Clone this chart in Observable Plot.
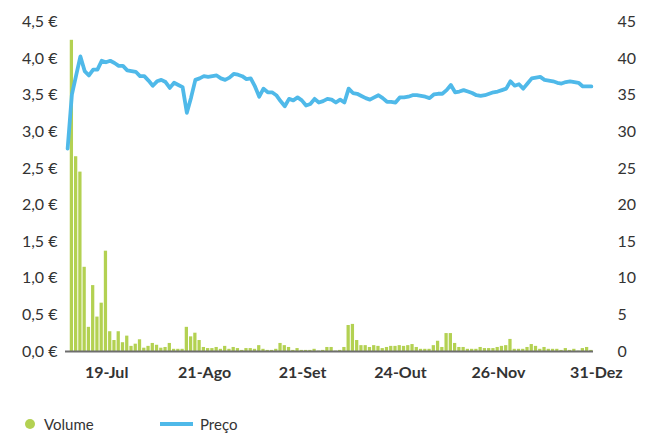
<!DOCTYPE html>
<html>
<head>
<meta charset="utf-8">
<script src="https://cdn.jsdelivr.net/npm/d3@7"></script>
<script src="https://cdn.jsdelivr.net/npm/@observablehq/plot@0.6"></script>
<style>
  html, body { margin: 0; padding: 0; background: #fff; }
  body { width: 646px; height: 434px; overflow: hidden; font-family: Lato, "Open Sans", sans-serif; }
  #legend { position: relative; height: 47px; font-size: 15px; color: #333; }
  #legend .dot { position: absolute; left: 25px; top: 32px; width: 10px; height: 10px; border-radius: 50%; background: #b3d152; }
  #legend .line { position: absolute; left: 160px; top: 35px; width: 33px; height: 4px; background: #4fb9e9; }
  #legend .lab { position: absolute; top: 28px; line-height: 18px; }
</style>
</head>
<body>
<div id="chart"></div>
<div id="legend">
  <div class="dot"></div><div class="lab" style="left:44px">Volume</div>
  <div class="line"></div><div class="lab" style="left:200px">Preço</div>
</div>
<script>
// Trading days (2012), by month
const julDays = [9,10,11,12,13,16,17,18,19,20,23,24,25,26,27,30,31];
const agoDays = [1,2,3,6,7,8,9,10,13,14,15,16,17,20,21,22,23,24,27,28,29,30,31];
const setDays = [3,4,5,6,7,10,11,12,13,14,17,18,19,20,21,24,25,26,27,28];
const outDays = [1,2,3,4,5,8,9,10,11,12,15,16,17,18,19,22,23,24,25,26,29,30,31];
const novDays = [1,2,5,6,7,8,9,12,13,14,15,16,19,20,21,22,23,26,27,28,29,30];
const dezDays = [3,4,5,6,7,10,11,12,13,14,17,18,19,20,21,24,27,28,31];

// Volume (right axis, 0–45)
const volume = [
  0, 42.5, 26.6, 24.5, 11.5, 3.3, 9.0, 4.7, 6.6, 13.7,
  2.7, 1.5, 2.7, 1.2, 2.1, 0.7, 1.0, 1.6, 0.45, 0.7,
  1.1, 0.85, 0.45, 0.55, 1.1, 0.3, 0.3, 0.3, 3.3, 2.0,
  2.5, 1.5, 0.55, 0.4, 0.4, 0.55, 0.3, 0.7, 0.3, 0.55,
  0.4, 0.15, 0.4, 0.4, 0.3, 0.8, 0.3, 0.15, 0.15, 0.3,
  1.1, 0.8, 0.55, 0.15, 0.4, 0.15, 0.15, 0.15, 0.3, 0.05,
  0.15, 0.55, 0.55, 0.05, 0.15, 0.55, 3.55, 3.7, 1.5, 0.8,
  0.8, 0.55, 0.8, 0.7, 0.4, 0.55, 0.7, 0.7, 0.8, 0.7,
  0.8, 0.95, 0.55, 0.3, 0.3, 0.3, 0.8, 1.4, 0.55, 2.45,
  2.45, 1.1, 0.55, 0.55, 0.3, 0.3, 0.3, 0.55, 0.4, 0.4,
  0.4, 0.55, 0.7, 0.8, 1.65, 0.3, 0.3, 0.3, 0.55, 0.95,
  0.7, 0.3, 0.55, 0.3, 0.3, 0.3, 0.15, 0.4, 0.15, 0.3,
  0.05, 0.4, 0.55, 0.15
];

// Price (left axis, €)
const price = [
  2.77, 3.51, 3.77, 4.03, 3.83, 3.77, 3.85, 3.85, 3.97, 3.95,
  3.97, 3.94, 3.90, 3.90, 3.84, 3.83, 3.82, 3.76, 3.76, 3.70,
  3.63, 3.69, 3.71, 3.68, 3.60, 3.67, 3.64, 3.61, 3.26, 3.47,
  3.71, 3.73, 3.76, 3.75, 3.76, 3.77, 3.73, 3.71, 3.74, 3.79,
  3.78, 3.76, 3.72, 3.73, 3.62, 3.48, 3.59, 3.54, 3.54, 3.50,
  3.42, 3.35, 3.45, 3.43, 3.47, 3.43, 3.36, 3.38, 3.45, 3.40,
  3.42, 3.45, 3.44, 3.40, 3.44, 3.40, 3.59, 3.53, 3.52, 3.49,
  3.46, 3.44, 3.47, 3.50, 3.46, 3.41, 3.41, 3.40, 3.47, 3.47,
  3.48, 3.50, 3.50, 3.49, 3.48, 3.46, 3.51, 3.52, 3.52, 3.57,
  3.64, 3.54, 3.55, 3.57, 3.55, 3.53, 3.50, 3.49, 3.50, 3.52,
  3.54, 3.55, 3.57, 3.59, 3.69, 3.63, 3.65, 3.59, 3.66, 3.73,
  3.74, 3.75, 3.71, 3.70, 3.69, 3.67, 3.66, 3.68, 3.69, 3.68,
  3.67, 3.62, 3.62, 3.62
];

const tickDates = ["2012-07-19", "2012-08-21", "2012-09-21", "2012-10-24", "2012-11-26", "2012-12-31"];
const tickLabels = ["19-Jul", "21-Ago", "21-Set", "24-Out", "26-Nov", "31-Dez"];
const priceTicks = [0, 0.5, 1, 1.5, 2, 2.5, 3, 3.5, 4, 4.5];
const volumeTicks = [0, 5, 10, 15, 20, 25, 30, 35, 40, 45];
const volRatio = 10; // right axis max 45 vs left axis max 4.5

const pad = n => String(n).padStart(2, "0");
const dates = [
  ...julDays.map(d => `2012-07-${pad(d)}`),
  ...agoDays.map(d => `2012-08-${pad(d)}`),
  ...setDays.map(d => `2012-09-${pad(d)}`),
  ...outDays.map(d => `2012-10-${pad(d)}`),
  ...novDays.map(d => `2012-11-${pad(d)}`),
  ...dezDays.map(d => `2012-12-${pad(d)}`)
];
const rows = dates.map((d, i) => ({date: d, volume: volume[i], price: price[i]}));

const chart = Plot.plot({
  width: 646,
  height: 387,
  marginLeft: 65,
  marginRight: 53,
  marginTop: 21.5,
  marginBottom: 36,
  style: {fontFamily: "Lato, 'Open Sans', sans-serif", fontSize: "16px", color: "#333", background: "white"},
  x: {type: "band", domain: dates, padding: 0},
  y: {domain: [0, 4.5]},
  marks: [
    Plot.barY(rows, {x: "date", y: d => d.volume / volRatio, fill: "#b3d152", insetLeft: 0.5, insetRight: 0.5}),
    Plot.ruleY([0], {stroke: "#6e6e6e", strokeWidth: 1.8}),
    Plot.lineY(rows, {x: "date", y: "price", stroke: "#4fb9e9", strokeWidth: 3.8, strokeLinejoin: "round"}),
    Plot.axisY(priceTicks, {anchor: "left", tickSize: 0, tickPadding: 8, label: null,
      tickFormat: d => d.toFixed(1).replace(".", ",") + " €"}),
    Plot.axisY(volumeTicks.map(v => v / volRatio), {anchor: "right", tickSize: 0, tickPadding: 24, label: null,
      tickFormat: d => String(Math.round(d * volRatio))}),
    Plot.axisX(tickDates, {tickSize: 0, tickPadding: 15, label: null, fontWeight: "bold", dx: 5,
      tickFormat: d => tickLabels[tickDates.indexOf(d)]})
  ]
});
document.getElementById("chart").appendChild(chart);
</script>
</body>
</html>
